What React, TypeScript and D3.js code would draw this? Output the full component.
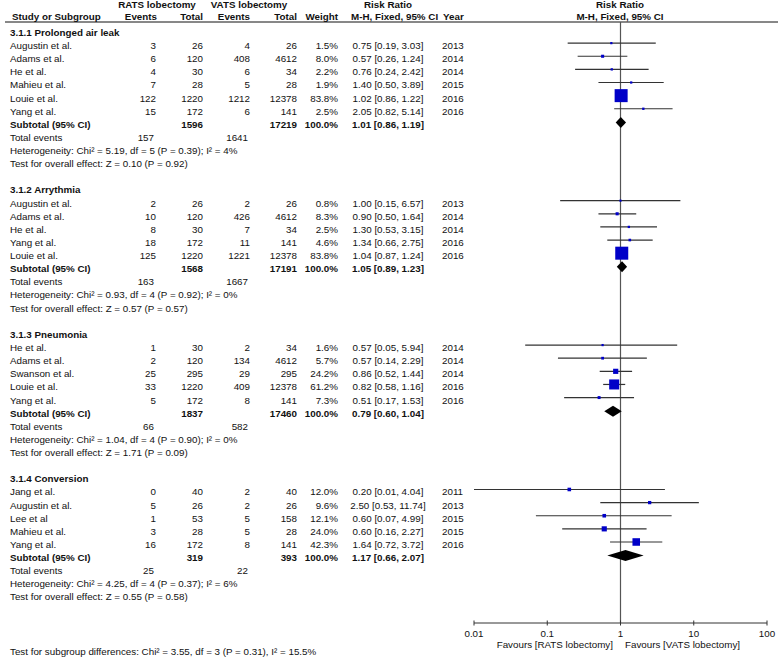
import React from "react";
import * as d3 from "d3";

// ---------- data ----------
const sectionTitles = ["3.1.1 Prolonged air leak", "3.1.2 Arrythmia", "3.1.3 Pneumonia", "3.1.4 Conversion"];

const studySection = [0, 0, 0, 0, 0, 0, 1, 1, 1, 1, 1, 2, 2, 2, 2, 2, 3, 3, 3, 3, 3];
const studyNames = [
  "Augustin et al.", "Adams et al.", "He et al.", "Mahieu et al.", "Louie et al.", "Yang et al.",
  "Augustin et al.", "Adams et al.", "He et al.", "Yang et al.", "Louie et al.",
  "He et al.", "Adams et al.", "Swanson et al.", "Louie et al.", "Yang et al.",
  "Jang et al.", "Augustin et al.", "Lee et al", "Mahieu et al.", "Yang et al.",
];
const ratsEvents = [3, 6, 4, 7, 122, 15, 2, 10, 8, 18, 125, 1, 2, 25, 33, 5, 0, 5, 1, 3, 16];
const ratsTotal = [26, 120, 30, 28, 1220, 172, 26, 120, 30, 172, 1220, 30, 120, 295, 1220, 172, 40, 26, 53, 28, 172];
const vatsEvents = [4, 408, 6, 5, 1212, 6, 2, 426, 7, 11, 1221, 2, 134, 29, 409, 8, 2, 2, 5, 5, 8];
const vatsTotal = [26, 4612, 34, 28, 12378, 141, 26, 4612, 34, 141, 12378, 34, 4612, 295, 12378, 141, 40, 26, 158, 28, 141];
const weights = [1.5, 8.0, 2.2, 1.9, 83.8, 2.5, 0.8, 8.3, 2.5, 4.6, 83.8, 1.6, 5.7, 24.2, 61.2, 7.3, 12.0, 9.6, 12.1, 24.0, 42.3];
const riskRatio = [0.75, 0.57, 0.76, 1.40, 1.02, 2.05, 1.00, 0.90, 1.30, 1.34, 1.04, 0.57, 0.57, 0.86, 0.82, 0.51, 0.20, 2.50, 0.60, 0.60, 1.64];
const ciLower = [0.19, 0.26, 0.24, 0.50, 0.86, 0.82, 0.15, 0.50, 0.53, 0.66, 0.87, 0.05, 0.14, 0.52, 0.58, 0.17, 0.01, 0.53, 0.07, 0.16, 0.72];
const ciUpper = [3.03, 1.24, 2.42, 3.89, 1.22, 5.14, 6.57, 1.64, 3.15, 2.75, 1.24, 5.94, 2.29, 1.44, 1.16, 1.53, 4.04, 11.74, 4.99, 2.27, 3.72];
const years = [2013, 2014, 2014, 2015, 2016, 2016, 2013, 2014, 2014, 2016, 2016, 2014, 2014, 2014, 2016, 2016, 2011, 2013, 2015, 2015, 2016];

const subRatsTotal = [1596, 1568, 1837, 319];
const subVatsTotal = [17219, 17191, 17460, 393];
const subRR = [1.01, 1.05, 0.79, 1.17];
const subLower = [0.86, 0.89, 0.60, 0.66];
const subUpper = [1.19, 1.23, 1.04, 2.07];
const totalRatsEvents = [157, 163, 66, 25];
const totalVatsEvents = [1641, 1667, 582, 22];
const heterogeneity = [
  "Heterogeneity: Chi² = 5.19, df = 5 (P = 0.39); I² = 4%",
  "Heterogeneity: Chi² = 0.93, df = 4 (P = 0.92); I² = 0%",
  "Heterogeneity: Chi² = 1.04, df = 4 (P = 0.90); I² = 0%",
  "Heterogeneity: Chi² = 4.25, df = 4 (P = 0.37); I² = 6%",
];
const overallEffect = [
  "Test for overall effect: Z = 0.10 (P = 0.92)",
  "Test for overall effect: Z = 0.57 (P = 0.57)",
  "Test for overall effect: Z = 1.71 (P = 0.09)",
  "Test for overall effect: Z = 0.55 (P = 0.58)",
];
const subgroupDiff = "Test for subgroup differences: Chi² = 3.55, df = 3 (P = 0.31), I² = 15.5%";
const axisTicks = [0.01, 0.1, 1, 10, 100];
const axisTickLabels = ["0.01", "0.1", "1", "10", "100"];

// ---------- layout ----------
const W = 778, H = 658;
const FONT = "'Liberation Sans', Arial, sans-serif";
const FS = 9.8;
const colX = { name: 10, rE: 156, rT: 203, vE: 250, vT: 297, w: 338, rr: 388, yr: 442 };
const x = d3.scaleLog().domain([0.01, 100]).range([474, 767]);
const rowY = d3.scaleLinear().domain([0, 43]).range([32.5, 597]);
const sq = d3.scaleLinear().domain([0, 83.8]).range([2, 13]);
const axisY = 623;
const markOff = -2.5;
const fmt2 = d3.format(".2f");
const fmtW = d3.format(".1f");

type Row = { kind: string; idx: number; sec: number; r: number };

function buildRows(): Row[] {
  const rows: Row[] = [];
  let r = 0;
  for (let s = 0; s < sectionTitles.length; s++) {
    rows.push({ kind: "header", idx: -1, sec: s, r: r++ });
    studySection.forEach((sec, i) => {
      if (sec === s) rows.push({ kind: "study", idx: i, sec: s, r: r++ });
    });
    rows.push({ kind: "subtotal", idx: -1, sec: s, r: r++ });
    rows.push({ kind: "total", idx: -1, sec: s, r: r++ });
    rows.push({ kind: "het", idx: -1, sec: s, r: r++ });
    rows.push({ kind: "test", idx: -1, sec: s, r: r++ });
    r++; // blank
  }
  return rows;
}

const T = (props: any) => (
  <text fontFamily={FONT} fontSize={FS} fill="#111" dy="0.35em" {...props} />
);

export default function App() {
  const rows = buildRows();
  return (
    <svg width={W} height={H} style={{ position: "absolute", left: 0, top: 0, background: "#fff" }}>
      <rect width={W} height={H} fill="#fff" />
      {/* headers */}
      <T x={157} y={5} textAnchor="middle" fontWeight="bold">RATS lobectomy</T>
      <T x={249} y={5} textAnchor="middle" fontWeight="bold">VATS lobectomy</T>
      <T x={colX.rr} y={5} textAnchor="middle" fontWeight="bold">Risk Ratio</T>
      <T x={620} y={5} textAnchor="middle" fontWeight="bold">Risk Ratio</T>
      <T x={12} y={16.5} fontWeight="bold">Study or Subgroup</T>
      <T x={colX.rE + 1} y={16.5} textAnchor="end" fontWeight="bold">Events</T>
      <T x={colX.rT} y={16.5} textAnchor="end" fontWeight="bold">Total</T>
      <T x={colX.vE} y={16.5} textAnchor="end" fontWeight="bold">Events</T>
      <T x={colX.vT} y={16.5} textAnchor="end" fontWeight="bold">Total</T>
      <T x={colX.w} y={16.5} textAnchor="end" fontWeight="bold">Weight</T>
      <T x={351} y={16.5} fontWeight="bold">M-H, Fixed, 95% CI</T>
      <T x={colX.yr + 1} y={16.5} fontWeight="bold">Year</T>
      <T x={620} y={16.5} textAnchor="middle" fontWeight="bold">M-H, Fixed, 95% CI</T>
      <line x1={5} x2={W} y1={22} y2={22} stroke="#111" strokeWidth={1} />
      {/* vertical no-effect line */}
      <line x1={x(1)} x2={x(1)} y1={22} y2={axisY} stroke="#555" strokeWidth={1.2} />

      {rows.map((row) => {
        const y = rowY(row.r);
        const s = row.sec;
        if (row.kind === "header")
          return <T key={`h${s}`} x={colX.name} y={y} fontWeight="bold">{sectionTitles[s]}</T>;
        if (row.kind === "study") {
          const i = row.idx;
          const side = sq(weights[i]);
          const my = y + markOff;
          return (
            <g key={`s${i}`}>
              <T x={colX.name} y={y}>{studyNames[i]}</T>
              <T x={colX.rE} y={y} textAnchor="end">{ratsEvents[i]}</T>
              <T x={colX.rT} y={y} textAnchor="end">{ratsTotal[i]}</T>
              <T x={colX.vE} y={y} textAnchor="end">{vatsEvents[i]}</T>
              <T x={colX.vT} y={y} textAnchor="end">{vatsTotal[i]}</T>
              <T x={colX.w} y={y} textAnchor="end">{fmtW(weights[i])}%</T>
              <T x={colX.rr} y={y} textAnchor="middle">{`${fmt2(riskRatio[i])} [${fmt2(ciLower[i])}, ${fmt2(ciUpper[i])}]`}</T>
              <T x={colX.yr} y={y}>{years[i]}</T>
              <line x1={x(ciLower[i])} x2={x(ciUpper[i])} y1={my} y2={my} stroke="#333" strokeWidth={1.2} />
              <rect x={x(riskRatio[i]) - side / 2} y={my - side / 2} width={side} height={side} fill="#0000c8" />
            </g>
          );
        }
        if (row.kind === "subtotal") {
          const my = y + markOff + 0.5;
          const path = `M${x(subLower[s])},${my} L${x(subRR[s])},${my - 5.5} L${x(subUpper[s])},${my} L${x(subRR[s])},${my + 5.5} Z`;
          return (
            <g key={`st${s}`}>
              <T x={colX.name} y={y} fontWeight="bold">Subtotal (95% CI)</T>
              <T x={colX.rT} y={y} textAnchor="end" fontWeight="bold">{subRatsTotal[s]}</T>
              <T x={colX.vT} y={y} textAnchor="end" fontWeight="bold">{subVatsTotal[s]}</T>
              <T x={colX.w} y={y} textAnchor="end" fontWeight="bold">100.0%</T>
              <T x={colX.rr} y={y} textAnchor="middle" fontWeight="bold">{`${fmt2(subRR[s])} [${fmt2(subLower[s])}, ${fmt2(subUpper[s])}]`}</T>
              <path d={path} fill="#000" />
            </g>
          );
        }
        if (row.kind === "total")
          return (
            <g key={`t${s}`}>
              <T x={colX.name} y={y}>Total events</T>
              <T x={colX.rE - 2} y={y} textAnchor="end">{totalRatsEvents[s]}</T>
              <T x={colX.vE - 2} y={y} textAnchor="end">{totalVatsEvents[s]}</T>
            </g>
          );
        if (row.kind === "het") return <T key={`he${s}`} x={colX.name} y={y}>{heterogeneity[s]}</T>;
        return <T key={`te${s}`} x={colX.name} y={y}>{overallEffect[s]}</T>;
      })}

      {/* axis */}
      <line x1={x(0.01)} x2={x(100)} y1={axisY} y2={axisY} stroke="#333" strokeWidth={1} />
      {axisTicks.map((t, k) => (
        <g key={`ax${k}`}>
          <line x1={x(t)} x2={x(t)} y1={axisY - 2.5} y2={axisY + 2.5} stroke="#333" strokeWidth={1} />
          <T x={x(t)} y={633.5} textAnchor="middle">{axisTickLabels[k]}</T>
        </g>
      ))}
      <T x={613} y={645} textAnchor="end">Favours [RATS lobectomy]</T>
      <T x={625} y={645}>Favours [VATS lobectomy]</T>
      <T x={colX.name} y={652}>{subgroupDiff}</T>
    </svg>
  );
}
